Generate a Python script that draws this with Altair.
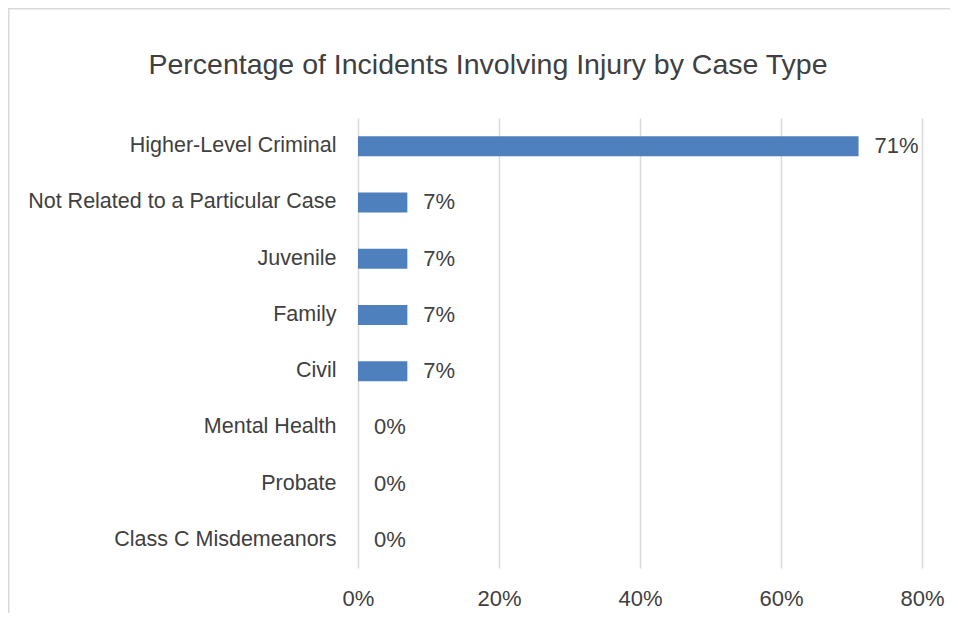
import altair as alt
import pandas as pd

categories = [
    "Higher-Level Criminal",
    "Not Related to a Particular Case",
    "Juvenile",
    "Family",
    "Civil",
    "Mental Health",
    "Probate",
    "Class C Misdemeanors",
]
values = [0.71, 0.07, 0.07, 0.07, 0.07, 0.0, 0.0, 0.0]
tick_values = [0, 0.2, 0.4, 0.6, 0.8]
title_text = "Percentage of Incidents Involving Injury by Case Type"

df = pd.DataFrame({"category": categories, "value": values})

FONT = "Liberation Sans, Arial, sans-serif"
TXT = "#404040"
GRID = "#d9d9d9"
BAR = "#4e80bd"

W, H = 564, 450
PAD_L, PAD_T, PAD_R, PAD_B = 350, 110, 28, 45

base = alt.Chart(df)

y_enc = alt.Y(
    "category:N",
    sort=categories,
    title=None,
    scale=alt.Scale(paddingInner=0, paddingOuter=0),
    axis=alt.Axis(
        ticks=False,
        domain=False,
        grid=False,
        labelFont=FONT,
        labelFontSize=21.5,
        labelColor=TXT,
        labelPadding=22,
        labelLimit=400,
    ),
)
x_enc = alt.X(
    "value:Q",
    title=None,
    scale=alt.Scale(domain=[0, 0.8]),
    axis=alt.Axis(
        values=tick_values,
        format=".0%",
        ticks=False,
        domain=False,
        grid=True,
        gridColor=GRID,
        gridWidth=1.5,
        labelFlush=False,
        labelFont=FONT,
        labelFontSize=22,
        labelColor=TXT,
        labelPadding=20,
        labelBaseline="top",
    ),
)

bars = base.mark_bar(color=BAR, size=20).encode(x=x_enc, y=y_enc)
labels = base.mark_text(
    align="left", baseline="middle", dx=16, font=FONT, fontSize=22, color=TXT
).encode(x="value:Q", y=alt.Y("category:N", sort=categories), text=alt.Text("value:Q", format=".0%"))

border_df = pd.DataFrame({"a": [0]})
left_border = alt.Chart(border_df).mark_rule(color=GRID, strokeWidth=1.5).encode(
    x=alt.value(-PAD_L + 0.75),
    y=alt.value(-PAD_T),
    y2=alt.value(H + PAD_B),
)
top_border = alt.Chart(border_df).mark_rule(color=GRID, strokeWidth=1.5).encode(
    x=alt.value(-PAD_L),
    x2=alt.value(W + PAD_R),
    y=alt.value(-PAD_T + 0.75),
)

chart = (
    alt.layer(bars, labels, left_border, top_border)
    .properties(
        width=W,
        height=H,
        background="white",
        autosize=alt.AutoSizeParams(type="none"),
        padding={"left": PAD_L, "top": PAD_T, "right": PAD_R, "bottom": PAD_B},
        title=alt.Title(
            title_text,
            font=FONT,
            fontSize=28.5,
            fontWeight="normal",
            color=TXT,
            anchor="middle",
            dx=-152,
            offset=0,
            dy=72,
        ),
    )
    .configure_view(strokeWidth=0)
)

chart.save("out.html", embed_options={"renderer": "svg", "actions": False})
